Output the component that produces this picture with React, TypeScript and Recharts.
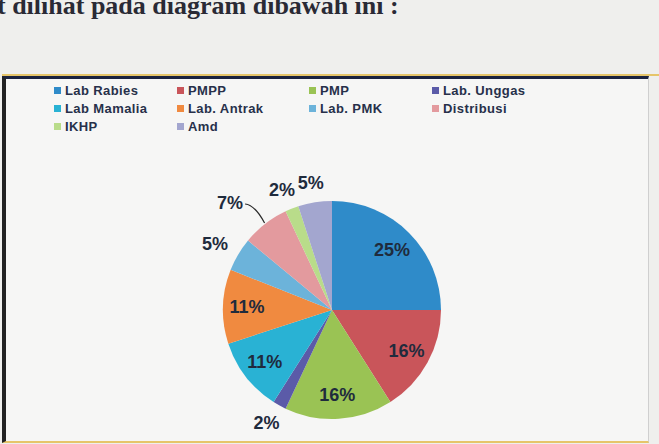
import { PieChart, Pie, Cell } from "recharts";

const categories = [
  "Lab Rabies",
  "PMPP",
  "PMP",
  "Lab. Unggas",
  "Lab Mamalia",
  "Lab. Antrak",
  "Lab. PMK",
  "Distribusi",
  "IKHP",
  "Amd",
];
const shares = [25, 16, 16, 2, 11, 11, 5, 7, 2, 5];
const sliceColors = [
  "#2f8bc9",
  "#c9555a",
  "#9ac354",
  "#5b5ba8",
  "#29b2d4",
  "#f08a40",
  "#6cb3da",
  "#e39a9e",
  "#b9dc8a",
  "#a3a6cf",
];
const leaderLabels = ["Distribusi"];

const data = categories.map((name, i) => ({ name, value: shares[i] }));

const RAD = Math.PI / 180;
const labelFont = {
  fontFamily: "'Liberation Sans', Arial, sans-serif",
  fontWeight: 700,
  fontSize: 18,
  fill: "#1f2b3d",
};

function renderLabel(props: any) {
  const { cx, cy, midAngle, outerRadius, value, name } = props;
  const cos = Math.cos(-midAngle * RAD);
  const sin = Math.sin(-midAngle * RAD);
  const text = `${value}%`;

  if (value >= 10) {
    const r = outerRadius * 0.78;
    return (
      <text
        x={cx + r * cos}
        y={cy + r * sin}
        textAnchor="middle"
        dominantBaseline="central"
        style={labelFont}
      >
        {text}
      </text>
    );
  }

  // small slices: label outside, box edge just off the rim
  const hasLeader = leaderLabels.includes(name);
  const gap = hasLeader ? 26 : 12;
  const w = 30;
  const h = 16;
  const x = cx + (outerRadius + gap) * cos + (cos * w) / 2 - (hasLeader ? 10 : 0);
  const y = cy + (outerRadius + gap) * sin + (sin * h) / 2 + (hasLeader ? 6 : 0);

  return (
    <g>
      {hasLeader && (
        <path
          d={`M ${x + w / 2} ${y + 1} Q ${x + w / 2 + 10} ${y + 2} ${cx + (outerRadius + 1) * cos} ${cy + (outerRadius + 1) * sin}`}
          stroke="#2a2a2a"
          strokeWidth={1.2}
          fill="none"
        />
      )}
      <text
        x={x}
        y={y}
        textAnchor="middle"
        dominantBaseline="central"
        style={labelFont}
      >
        {text}
      </text>
    </g>
  );
}

export default function App() {
  return (
    <div
      style={{
        position: "absolute",
        left: 0,
        top: 0,
        width: 659,
        height: 444,
        background: "#efefed",
        overflow: "hidden",
      }}
    >
      <div
        style={{
          position: "absolute",
          left: -3,
          top: -7,
          fontFamily: "'Liberation Serif', serif",
          fontWeight: 700,
          fontSize: 26,
          lineHeight: 1,
          color: "#2a2a35",
          whiteSpace: "nowrap",
        }}
      >
        t dilihat pada diagram dibawah ini :
      </div>

      <div
        style={{
          position: "absolute",
          left: 2,
          top: 74,
          width: 657,
          height: 2,
          background: "#e6c56a",
        }}
      />
      <div
        style={{
          position: "absolute",
          left: 2,
          top: 76,
          width: 642,
          height: 362,
          background: "#f6f6f5",
          borderTop: "3px solid #1b2340",
          borderLeft: "4px solid #222",
          borderRight: "1px solid #cfcfcf",
          borderBottom: "2px solid #e6c56a",
        }}
      />

      <div
        style={{
          position: "absolute",
          left: 54,
          top: 82,
          display: "grid",
          gridTemplateColumns: "123px 132px 123px 140px",
          rowGap: 2,
          fontFamily: "'Liberation Sans', Arial, sans-serif",
          fontWeight: 700,
          fontSize: 13,
          letterSpacing: 0.4,
          color: "#27304a",
        }}
      >
        {categories.map((name, i) => (
          <div
            key={name}
            style={{ display: "flex", alignItems: "center", height: 16 }}
          >
            <span
              style={{
                width: 7,
                height: 7,
                background: sliceColors[i],
                marginRight: 4,
              }}
            />
            <span>{name}</span>
          </div>
        ))}
      </div>

      <div style={{ position: "absolute", left: 0, top: 0 }}>
        <PieChart
          width={659}
          height={444}
          margin={{ top: 0, right: 0, bottom: 0, left: 0 }}
        >
          <Pie
            data={data}
            dataKey="value"
            nameKey="name"
            cx={332}
            cy={310}
            outerRadius={109}
            startAngle={90}
            endAngle={-270}
            stroke="none"
            label={renderLabel}
            labelLine={false}
            isAnimationActive={false}
          >
            {data.map((_, i) => (
              <Cell key={i} fill={sliceColors[i]} />
            ))}
          </Pie>
        </PieChart>
      </div>
    </div>
  );
}
